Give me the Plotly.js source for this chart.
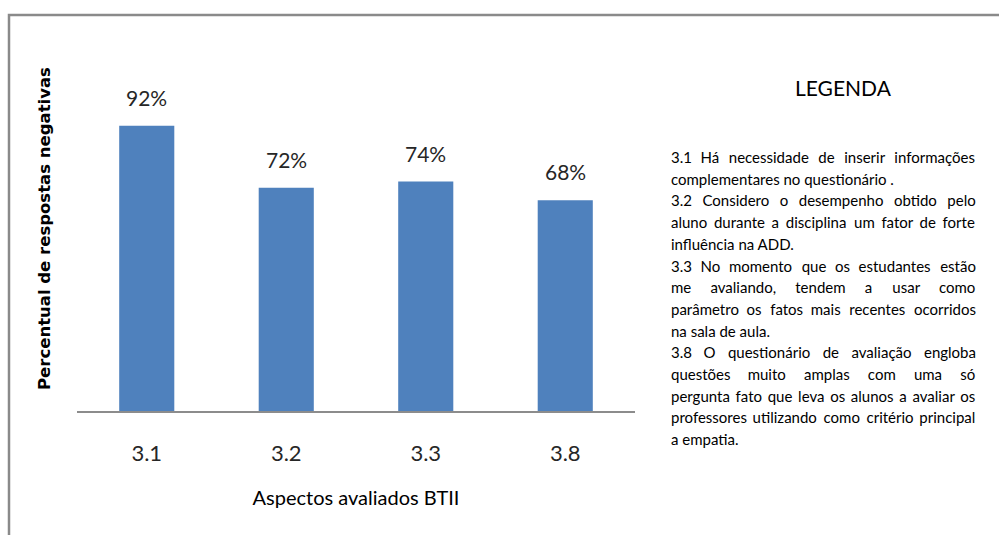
<!DOCTYPE html>
<html>
<head>
<meta charset="utf-8">
<script src="https://cdn.plot.ly/plotly-3.0.1.min.js"></script>
<style>
  html, body { margin: 0; padding: 0; background: #ffffff; }
  #chart { width: 999px; height: 535px; }
</style>
</head>
<body>
<div id="chart"></div>
<script>
// Data
const categories = ["3.1", "3.2", "3.3", "3.8"];
const values = [0.92, 0.72, 0.74, 0.68];
const valueLabels = ["92%", "72%", "74%", "68%"];
const xTitle = "Aspectos avaliados BTII";
const yTitle = "Percentual de respostas negativas";
const legendTitle = "LEGENDA";
const legendLines = [
  "3.1 Há necessidade de inserir informações",
  "complementares no questionário .",
  "3.2 Considero o desempenho obtido pelo",
  "aluno durante a disciplina um fator de forte",
  "influência na ADD.",
  "3.3 No momento que os estudantes estão",
  "me avaliando, tendem a usar como",
  "parâmetro os fatos mais recentes ocorridos",
  "na sala de aula.",
  "3.8 O questionário de avaliação engloba",
  "questões muito amplas com uma só",
  "pergunta fato que leva os alunos a avaliar os",
  "professores utilizando como critério principal",
  "a empatia."
];
// which legend lines end a paragraph (not justified)
const paragraphEnds = [false, true, false, false, true, false, false, false, true, false, false, false, false, true];

const W = 999, H = 535;
const L = 77, R = 364, T = 101, B = 124;
const pw = W - L - R, ph = H - T - B;
const px = x => (x - L) / pw;          // pixel -> paper x
const py = y => 1 - (y - T) / ph;      // pixel -> paper y

const FONT = "Lato";
const legendSize = 15;
const legendLeft = 669, legendRight = 974;

// simple justification using non-breaking and hair spaces
const cv = document.createElement("canvas").getContext("2d");
cv.font = legendSize + "px " + FONT;
const mw = s => cv.measureText(s).width;
function justify(line, target) {
  const words = line.split(/ +/);
  if (words.length < 2) return line;
  const natural = mw(words.join(" "));
  let extra = target - natural;
  if (extra <= 0) return line;
  const nb = mw("\u00A0"), hair = Math.max(mw("\u200A"), 0.5);
  const gaps = words.length - 1;
  let out = words[0], acc = 0;
  for (let g = 0; g < gaps; g++) {
    acc += extra / gaps;
    let fill = "";
    const k = Math.floor(acc / nb);
    for (let j = 0; j < k; j++) fill += "\u00A0";
    acc -= k * nb;
    const m = Math.floor(acc / hair);
    for (let j = 0; j < m; j++) fill += "\u200A";
    acc -= m * hair;
    out += " " + fill + words[g + 1];
  }
  return out;
}

const annotations = [];
categories.forEach((c, i) => {
  annotations.push({
    x: i, y: values[i], xref: "x", yref: "y",
    text: valueLabels[i], showarrow: false,
    yanchor: "bottom", yshift: 14,
    font: { family: FONT, size: 21, color: "#262626" }
  });
});
annotations.push({
  x: px(843), y: py(88), xref: "paper", yref: "paper",
  text: legendTitle, showarrow: false, xanchor: "center", yanchor: "middle",
  font: { family: FONT, size: 21, color: "#000000" }
});
legendLines.forEach((t, i) => {
  const txt = paragraphEnds[i] ? t : justify(t, legendRight - legendLeft);
  annotations.push({
    x: px(legendLeft), y: py(157 + i * 21.7), xref: "paper", yref: "paper",
    text: txt, showarrow: false, xanchor: "left", yanchor: "middle",
    font: { family: FONT, size: legendSize, color: "#000000" }
  });
});
annotations.push({
  x: px(44), y: py(229), xref: "paper", yref: "paper",
  text: yTitle, showarrow: false, textangle: -90,
  xanchor: "center", yanchor: "middle",
  font: { family: "DejaVu Sans, Verdana, sans-serif", size: 16.5, color: "#000000", weight: "bold" }
});

const data = [{
  type: "bar",
  x: categories,
  y: values,
  marker: { color: "#4F81BD", line: { width: 0 } },
  hoverinfo: "skip"
}];

const layout = {
  width: W, height: H,
  margin: { l: L, r: R, t: T, b: B, pad: 0 },
  paper_bgcolor: "#ffffff",
  plot_bgcolor: "#ffffff",
  showlegend: false,
  bargap: 0.605,
  xaxis: {
    type: "category",
    range: [-0.5, categories.length - 0.5],
    showline: true, linecolor: "#8c8c8c", linewidth: 1.5,
    ticks: "", showgrid: false, zeroline: false,
    ticklabelstandoff: 22,
    tickfont: { family: FONT, size: 22, color: "#262626" },
    title: { text: xTitle, standoff: 26, font: { family: FONT, size: 20, color: "#000000" } },
    automargin: false
  },
  yaxis: {
    range: [0, 1],
    showticklabels: false, showline: false, showgrid: false, zeroline: false, ticks: "",
    automargin: false
  },
  annotations: annotations,
  shapes: [{
    type: "path", xref: "paper", yref: "paper",
    path: `M ${px(9)} ${py(540)} L ${px(9)} ${py(15)} L ${px(1005)} ${py(15)}`,
    line: { color: "#8a8a8a", width: 2.5 }
  }]
};

Plotly.newPlot("chart", data, layout, { displayModeBar: false, staticPlot: true });
</script>
</body>
</html>
